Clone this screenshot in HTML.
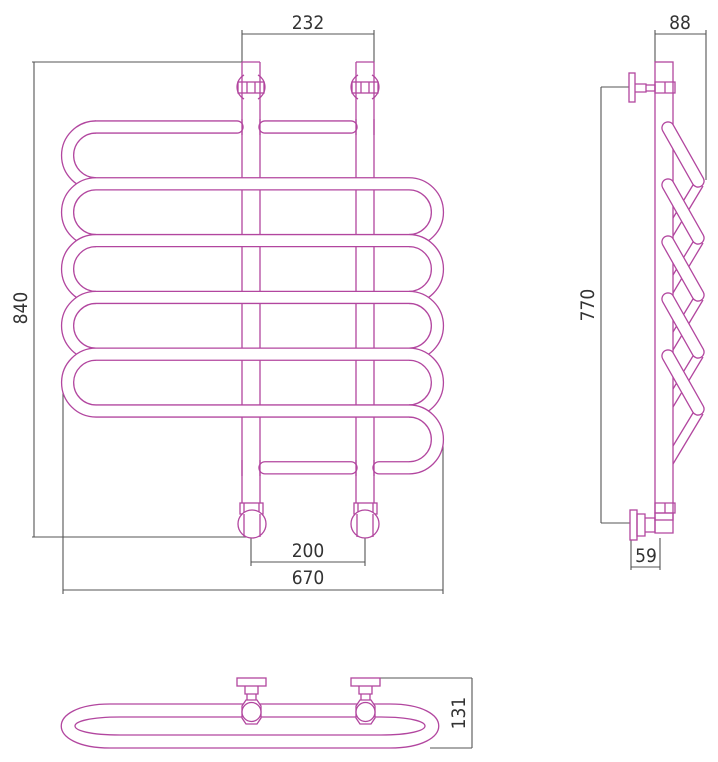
<!DOCTYPE html>
<html><head><meta charset="utf-8"><style>
html,body{margin:0;padding:0;background:#fff;}
svg{display:block;}
text{font-family:"DejaVu Sans","Liberation Sans",sans-serif;font-stretch:condensed;fill:#333;font-size:19px;}
</style></head><body>
<svg width="718" height="762" viewBox="0 0 718 762" xmlns="http://www.w3.org/2000/svg">
<!-- dimensions -->
<g stroke="#555" stroke-width="1.1" fill="none">
<path d="M242,34H374M242,30V62M374,30V62"/>
<path d="M34,62V537M32,62H242M32,537H251"/>
<path d="M251,525V566M365,525V566M251,562H365"/>
<path d="M63,380V594M443,440V594M63,590H443"/>
<path d="M655,34H706M655,30V62M706,30V180"/>
<path d="M601,87V523M601,87H629M601,523H631"/>
<path d="M631,538V570M660,538V570M631,567H660"/>
<path d="M380,678H472M430,748H472M472,678V748"/>
</g>
<text x="308" y="29" text-anchor="middle">232</text>
<text x="308" y="557" text-anchor="middle">200</text>
<text x="308" y="584" text-anchor="middle">670</text>
<text x="680" y="29" text-anchor="middle">88</text>
<text x="646" y="562" text-anchor="middle">59</text>
<text transform="translate(27,308) rotate(-90)" text-anchor="middle">840</text>
<text transform="translate(594,305) rotate(-90)" text-anchor="middle">770</text>
<text transform="translate(465,713) rotate(-90)" text-anchor="middle">131</text>

<g stroke="#b2469f" stroke-width="1.3" fill="none">
<path d="M242,62V503M260,62V503M356,62V503M374,62V503M242,62H260M356,62H374"/>
<rect x="238" y="82" width="26" height="11" fill="#fff"/>
<path d="M242,82V93M260,82V93M247,82V93M255,82V93"/>
<rect x="352" y="82" width="26" height="11" fill="#fff"/>
<path d="M356,82V93M374,82V93M361,82V93M369,82V93"/>
<path d="M244,74.9A14,14 0 0 0 244,99.1M258,74.9A14,14 0 0 1 258,99.1"/>
<path d="M358,74.9A14,14 0 0 0 358,99.1M372,74.9A14,14 0 0 1 372,99.1"/>
</g>

<g fill="none" stroke-linecap="butt">
<!-- row 0 and row 6 -->
<path d="M96,127H237M265,127H351M265,467.8H351M379,467.8H409" stroke="#b2469f" stroke-width="13.4" stroke-linecap="round"/>
<path d="M96,127H237M265,127H351M265,467.8H351M379,467.8H409" stroke="#fff" stroke-width="10.8" stroke-linecap="round"/>
<!-- rows 1..5 -->
<path d="M96,183.8H409M96,240.6H409M96,297.4H409M96,354.2H409M96,411H409" stroke="#b2469f" stroke-width="13.4"/>
<path d="M96,183.8H409M96,240.6H409M96,297.4H409M96,354.2H409M96,411H409" stroke="#fff" stroke-width="10.8"/>
<!-- bends -->
<path d="M96,127A28.4,28.4 0 0 0 96,183.8" stroke="#b2469f" stroke-width="13.4"/><path d="M96,127A28.4,28.4 0 0 0 96,183.8" stroke="#fff" stroke-width="10.8"/>
<path d="M409,183.8A28.4,28.4 0 0 1 409,240.6" stroke="#b2469f" stroke-width="13.4"/><path d="M409,183.8A28.4,28.4 0 0 1 409,240.6" stroke="#fff" stroke-width="10.8"/>
<path d="M96,183.8A28.4,28.4 0 0 0 96,240.6" stroke="#b2469f" stroke-width="13.4"/><path d="M96,183.8A28.4,28.4 0 0 0 96,240.6" stroke="#fff" stroke-width="10.8"/>
<path d="M409,240.6A28.4,28.4 0 0 1 409,297.4" stroke="#b2469f" stroke-width="13.4"/><path d="M409,240.6A28.4,28.4 0 0 1 409,297.4" stroke="#fff" stroke-width="10.8"/>
<path d="M96,240.6A28.4,28.4 0 0 0 96,297.4" stroke="#b2469f" stroke-width="13.4"/><path d="M96,240.6A28.4,28.4 0 0 0 96,297.4" stroke="#fff" stroke-width="10.8"/>
<path d="M409,297.4A28.4,28.4 0 0 1 409,354.2" stroke="#b2469f" stroke-width="13.4"/><path d="M409,297.4A28.4,28.4 0 0 1 409,354.2" stroke="#fff" stroke-width="10.8"/>
<path d="M96,297.4A28.4,28.4 0 0 0 96,354.2" stroke="#b2469f" stroke-width="13.4"/><path d="M96,297.4A28.4,28.4 0 0 0 96,354.2" stroke="#fff" stroke-width="10.8"/>
<path d="M409,354.2A28.4,28.4 0 0 1 409,411" stroke="#b2469f" stroke-width="13.4"/><path d="M409,354.2A28.4,28.4 0 0 1 409,411" stroke="#fff" stroke-width="10.8"/>
<path d="M96,354.2A28.4,28.4 0 0 0 96,411" stroke="#b2469f" stroke-width="13.4"/><path d="M96,354.2A28.4,28.4 0 0 0 96,411" stroke="#fff" stroke-width="10.8"/>
<path d="M409,411A28.4,28.4 0 0 1 409,467.8" stroke="#b2469f" stroke-width="13.4"/><path d="M409,411A28.4,28.4 0 0 1 409,467.8" stroke="#fff" stroke-width="10.8"/>
</g>
<g stroke="#b2469f" stroke-width="1.3" fill="none">
<path d="M242,119V135M260,119V135M356,119V135M374,119V135M242,460V476M260,460V476M356,460V476M374,460V476"/>
<rect x="240" y="503" width="23" height="11" fill="#fff"/>
<path d="M244,503V514M259,503V514"/>
<circle cx="252" cy="524" r="14" fill="#fff"/>
<path d="M244,514V537M260,514V537"/>
<rect x="354" y="503" width="23" height="11" fill="#fff"/>
<path d="M358,503V514M373,503V514"/>
<circle cx="365" cy="524" r="14" fill="#fff"/>
<path d="M357,514V537M373,514V537"/>
</g>

<!-- side view -->
<g stroke="#b2469f" stroke-width="1.3" fill="none">
<path d="M703,186L673,236M696,180L673,218M703,243L673,293M696,237L673,275M703,300L673,350M696,294L673,332M703,357L673,407M696,351L673,389M703,414L673,464M696,408L673,446"/>
<rect x="655" y="62" width="18" height="458" fill="#fff"/>
<path d="M655,82H675V93H655ZM665,82V93"/>
<rect x="629" y="73" width="6" height="29" fill="#fff"/>
<path d="M635,84H646V92H635M646,85H655V91H646"/>
<path d="M655,503H675V513H655ZM665,503V513"/>
<path d="M655,513H673V533H655Z"/>
<rect x="630" y="510" width="7" height="30" fill="#fff"/>
<path d="M637,514H645V536H637ZM645,518H655V532H645"/>
</g>
<g fill="none" stroke-linecap="round">
<path d="M668,128L698,181M668,185L698,238M668,242L698,295M668,299L698,352M668,356L698,409" stroke="#b2469f" stroke-width="13.4"/>
<path d="M668,128L698,181M668,185L698,238M668,242L698,295M668,299L698,352M668,356L698,409" stroke="#fff" stroke-width="10.8"/>
</g>

<!-- bottom view -->
<g stroke="#b2469f" stroke-width="1.3" fill="none">
<path d="M110,704H390C455,704 455,748 390,748H110C45,748 45,704 110,704Z"/>
<path d="M120,717H380C440,717 440,735 380,735H120C60,735 60,717 120,717Z"/>
<rect x="237" y="678" width="29" height="8" fill="#fff"/>
<path d="M245,686V694H258V686M247,694V703H256V694"/>
<path d="M242,706L246,700H257L261,706L261,718L257,724H246L242,718Z" fill="#fff"/>
<circle cx="251.5" cy="712" r="9.5" fill="#fff"/>
<rect x="351" y="678" width="29" height="8" fill="#fff"/>
<path d="M359,686V694H372V686M361,694V703H370V694"/>
<path d="M356,706L360,700H371L375,706L375,718L371,724H360L356,718Z" fill="#fff"/>
<circle cx="365.5" cy="712" r="9.5" fill="#fff"/>
</g>
</svg>
</body></html>
